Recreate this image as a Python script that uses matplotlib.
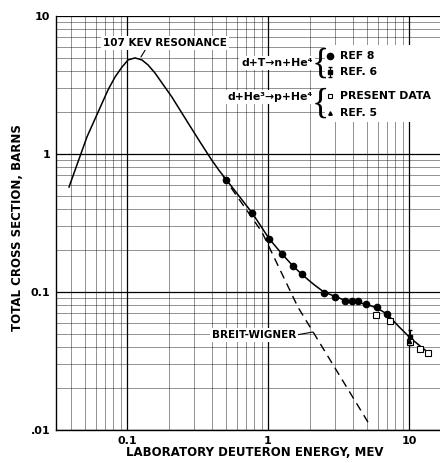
import numpy as np
import matplotlib
matplotlib.use("Agg")
import matplotlib.pyplot as plt
from matplotlib.ticker import LogLocator, NullFormatter, FixedLocator
from matplotlib.patches import Rectangle

# ---- data ----
curve_x = [0.0388, 0.052, 0.0733, 0.0822, 0.0922, 0.1017, 0.114, 0.1277, 0.141, 0.158,
           0.208, 0.271, 0.33, 0.40, 0.45, 0.504, 0.771, 1.02, 1.26, 1.50, 1.74, 2.10,
           2.49, 2.99, 3.46, 4.35, 4.96, 5.93, 6.98, 8.5, 10.2, 13.0]
curve_y = [0.577, 1.33, 2.91, 3.61, 4.27, 4.80, 4.97, 4.80, 4.42, 3.86,
           2.59, 1.68, 1.22, 0.90, 0.76, 0.655, 0.375, 0.243, 0.188, 0.155, 0.134, 0.114,
           0.100, 0.093, 0.0875, 0.0835, 0.0818, 0.0765, 0.0693, 0.056, 0.0465, 0.038]

bw_x = [0.48, 0.906, 1.63, 5.12]
bw_y = [0.69, 0.272, 0.0778, 0.0114]

ref8_x = [0.504, 0.771, 1.02, 1.26, 1.50, 1.74, 2.49, 2.99, 3.52, 3.94, 4.35, 4.96, 5.93, 6.98]
ref8_y = [0.648, 0.373, 0.242, 0.188, 0.154, 0.135, 0.0984, 0.092, 0.0861, 0.0861, 0.0861,
          0.0818, 0.0778, 0.0693]

ref6_x = [10.2]
ref6_y = [0.047]
ref6_err = [0.006]

present_x = [5.83, 7.33, 10.2, 12.0, 13.6]
present_y = [0.068, 0.0616, 0.0434, 0.0386, 0.0361]

ref5_x = [10.0]
ref5_y = [0.044]

xlim = (0.03136, 16.6)
ylim = (0.01, 10)
y_ticks = [0.01, 0.1, 1, 10]
y_ticklabels = [".01", "0.1", "1", "10"]
x_ticks = [0.1, 1, 10]
x_ticklabels = ["0.1", "1", "10"]

plt.rcParams['font.family'] = ["DejaVu Sans"]

fig = plt.figure(figsize=(4.4, 4.63), dpi=100)
ax = fig.add_axes([56/440, 33/463, 384/440, 414/463])
ax.set_xscale("log")
ax.set_yscale("log")
ax.set_xlim(*xlim)
ax.set_ylim(*ylim)

# graph-paper grid
ax.xaxis.set_major_locator(FixedLocator(x_ticks))
ax.yaxis.set_major_locator(FixedLocator(y_ticks))
ax.xaxis.set_minor_locator(LogLocator(base=10, subs=np.arange(2, 10)))
ax.yaxis.set_minor_locator(LogLocator(base=10, subs=np.arange(2, 10)))
ax.xaxis.set_minor_formatter(NullFormatter())
ax.yaxis.set_minor_formatter(NullFormatter())
ax.grid(which="major", color="black", lw=0.9)
ax.grid(which="minor", color="black", lw=0.5, alpha=0.6)
ax.set_axisbelow(True)
ax.tick_params(which="both", length=0, pad=4)
ax.set_xticklabels(x_ticklabels, fontsize=8, fontweight="bold")
ax.set_yticklabels(y_ticklabels, fontsize=8, fontweight="bold")
for s in ["top", "right"]:
    ax.spines[s].set_visible(False)
for s in ["left", "bottom"]:
    ax.spines[s].set_linewidth(1.0)

# curves
ax.plot(curve_x, curve_y, color="black", lw=1.1, zorder=3)
ax.plot(bw_x, bw_y, color="black", lw=1.0, ls=(0, (6, 4)), zorder=3)

# data points
ax.plot(ref8_x, ref8_y, "o", color="black", ms=4.5, zorder=4)
ax.errorbar(ref6_x, ref6_y, yerr=ref6_err, fmt="s", color="black", ms=3.5,
            elinewidth=0.8, capsize=1.5, zorder=4)
ax.plot(present_x, present_y, "s", mfc="white", mec="black", ms=3.8, mew=0.8, zorder=5)
ax.plot(ref5_x, ref5_y, "^", color="black", ms=3, zorder=5)

bold = dict(fontweight="bold", fontsize=7.5, color="black")
lbold = dict(fontweight="bold", fontsize=7.8, color="black")
wbox = dict(facecolor="white", edgecolor="none", pad=1.5)

# annotations
ax.annotate("107 KEV RESONANCE", xy=(0.1256, 5.05), xytext=(0.186, 6.37),
            ha="center", va="center", bbox=wbox,
            arrowprops=dict(arrowstyle="-", lw=0.8, color="black",
                            shrinkA=0, shrinkB=0, relpos=(0.35, 0.0)), zorder=6, **bold)
ax.annotate("BREIT-WIGNER", xy=(2.08, 0.0513), xytext=(0.401, 0.0488),
            ha="left", va="center", bbox=wbox,
            arrowprops=dict(arrowstyle="-", lw=0.8, color="black",
                            shrinkA=0, shrinkB=0, relpos=(1.0, 0.5)), zorder=6, **bold)

# custom legend
T = ax.transAxes
ax.text(0.669, 0.886, "d+T\u2192n+He\u2074", transform=T, ha="right", va="center",
        bbox=wbox, zorder=6, **lbold)
ax.text(0.669, 0.804, "d+He\u00b3\u2192p+He\u2074", transform=T, ha="right", va="center",
        bbox=wbox, zorder=6, **lbold)
ax.text(0.688, 0.884, "{", transform=T, ha="center", va="center", fontsize=26,
        family="Liberation Serif", fontweight="normal", zorder=6)
ax.text(0.688, 0.786, "{", transform=T, ha="center", va="center", fontsize=26,
        family="Liberation Serif", fontweight="normal", zorder=6)
ax.add_patch(Rectangle((0.700, 0.745), 0.30, 0.185, transform=T, facecolor="white",
                       edgecolor="none", zorder=5))
ax.plot([0.714], [0.903], "o", color="black", ms=4.5, transform=T, clip_on=False, zorder=6)
ax.errorbar([0.714], [0.865], yerr=[0.012], fmt="s", color="black", ms=3,
            elinewidth=0.8, capsize=1.5, transform=T, clip_on=False, zorder=6)
ax.plot([0.714], [0.807], "s", mfc="white", mec="black", ms=3.5, mew=0.8, transform=T,
        clip_on=False, zorder=6)
ax.plot([0.714], [0.766], "^", color="black", ms=2.5, transform=T, clip_on=False, zorder=6)
ax.text(0.740, 0.903, "REF 8", transform=T, ha="left", va="center", zorder=6, **lbold)
ax.text(0.740, 0.865, "REF. 6", transform=T, ha="left", va="center", zorder=6, **lbold)
ax.text(0.740, 0.807, "PRESENT DATA", transform=T, ha="left", va="center", zorder=6, **lbold)
ax.text(0.740, 0.766, "REF. 5", transform=T, ha="left", va="center", zorder=6, **lbold)

fig.text(255/440, 1 - 452/463, "LABORATORY DEUTERON ENERGY, MEV", ha="center", va="center",
         fontsize=8.5, fontweight="bold")
fig.text(18/440, 1 - 228/463, "TOTAL CROSS SECTION, BARNS", ha="center", va="center",
         rotation=90, fontsize=8.5, fontweight="bold")

fig.savefig("out.png", dpi=100)
